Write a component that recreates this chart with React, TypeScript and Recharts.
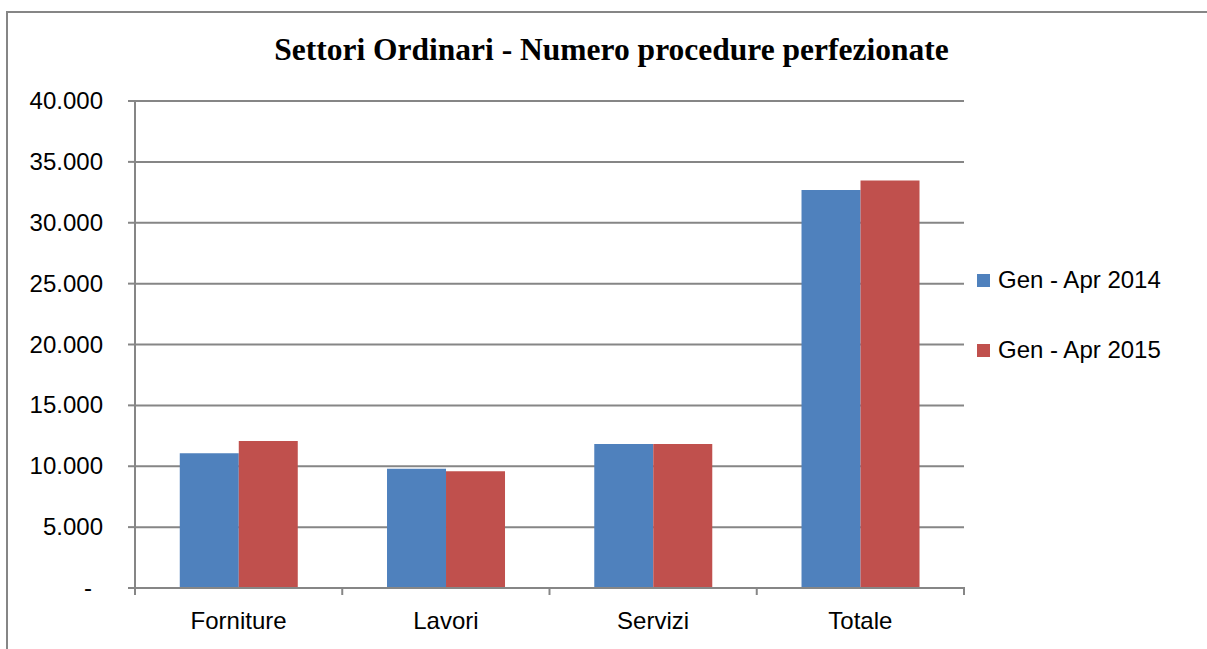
import React from 'react';
import { BarChart, Bar, XAxis, YAxis, CartesianGrid, Legend } from 'recharts';

const categories = ['Forniture', 'Lavori', 'Servizi', 'Totale'];
const series2014 = [11060, 9800, 11830, 32690];
const series2015 = [12070, 9580, 11830, 33480];
const seriesNames = ['Gen - Apr 2014', 'Gen - Apr 2015'];
const seriesColors = ['#4F81BD', '#C0504D'];
const yTicks = [0, 5000, 10000, 15000, 20000, 25000, 30000, 35000, 40000];
const title = 'Settori Ordinari - Numero procedure perfezionate';

const data = categories.map((c, i) => ({ name: c, a: series2014[i], b: series2015[i] }));

const GRID = '#868686';
const FONT = '"Liberation Sans", Arial, sans-serif';

const fmt = (v: number) => (v === 0 ? '-' : v.toLocaleString('de-DE'));

const YTick = (props: any) => {
  const { x, y, payload } = props;
  const v = payload.value;
  return (
    <text x={v === 0 ? x - 11 : x} y={y} dy={8} textAnchor="end" fontFamily={FONT} fontSize={24} fill="#000">
      {fmt(v)}
    </text>
  );
};

const XTick = (props: any) => {
  const { x, y, payload, index, visibleTicksCount } = props;
  const half = 207.25 / 2;
  return (
    <g>
      <line x1={x - half} x2={x - half} y1={y - 9} y2={y - 1} stroke={GRID} strokeWidth={2} />
      {index === (visibleTicksCount ?? 4) - 1 && (
        <line x1={x + half} x2={x + half} y1={y - 9} y2={y - 1} stroke={GRID} strokeWidth={2} />
      )}
      <text x={x} y={y} dy={33} textAnchor="middle" fontFamily={FONT} fontSize={24} fill="#000">
        {payload.value}
      </text>
    </g>
  );
};

const LegendContent = () => (
  <div style={{ fontFamily: FONT, fontSize: 24, color: '#000' }}>
    {seriesNames.map((n, i) => (
      <div key={n} style={{ display: 'flex', alignItems: 'center', height: 30, marginBottom: i === 0 ? 40 : 0 }}>
        <span style={{ display: 'inline-block', width: 13, height: 13, background: seriesColors[i], marginRight: 8 }} />
        <span>{n}</span>
      </div>
    ))}
  </div>
);

export default function App() {
  return (
    <div style={{ position: 'absolute', left: 0, top: 0, width: 1207, height: 649, overflow: 'hidden', background: '#fff' }}>
      <div style={{ position: 'absolute', left: 6, top: 11, width: 1300, height: 800, border: `2px solid ${GRID}`, boxSizing: 'border-box' }} />
      <div
        style={{
          position: 'absolute',
          left: 0,
          width: 1223,
          top: 31,
          textAlign: 'center',
          fontFamily: '"Liberation Serif", "Times New Roman", serif',
          fontWeight: 'bold',
          fontSize: 31.5,
          lineHeight: '38px',
          color: '#000',
        }}
      >
        {title}
      </div>
      <div style={{ position: 'absolute', left: 0, top: 0 }}>
        <BarChart
          width={1207}
          height={649}
          data={data}
          margin={{ top: 101, right: 243, bottom: 0, left: 0 }}
          barCategoryGap="21.6%"
          barGap={0}
        >
          <CartesianGrid vertical={false} stroke={GRID} strokeWidth={2} />
          <XAxis
            dataKey="name"
            axisLine={{ stroke: GRID, strokeWidth: 2 }}
            tickLine={false}
            tick={<XTick />}
            height={61}
            interval={0}
          />
          <YAxis
            width={135}
            domain={[0, 40000]}
            ticks={yTicks}
            interval={0}
            axisLine={{ stroke: GRID, strokeWidth: 2 }}
            tickLine={{ stroke: GRID, strokeWidth: 2 }}
            tickSize={7}
            tickMargin={25}
            tick={<YTick />}
          />
          <Legend
            layout="vertical"
            align="center"
            verticalAlign="middle"
            content={<LegendContent />}
            wrapperStyle={{ position: 'absolute', left: 977, top: 265, width: 230 }}
          />
          {['a', 'b'].map((k, i) => (
            <Bar key={k} dataKey={k} name={seriesNames[i]} fill={seriesColors[i]} isAnimationActive={false} />
          ))}
        </BarChart>
      </div>
    </div>
  );
}
